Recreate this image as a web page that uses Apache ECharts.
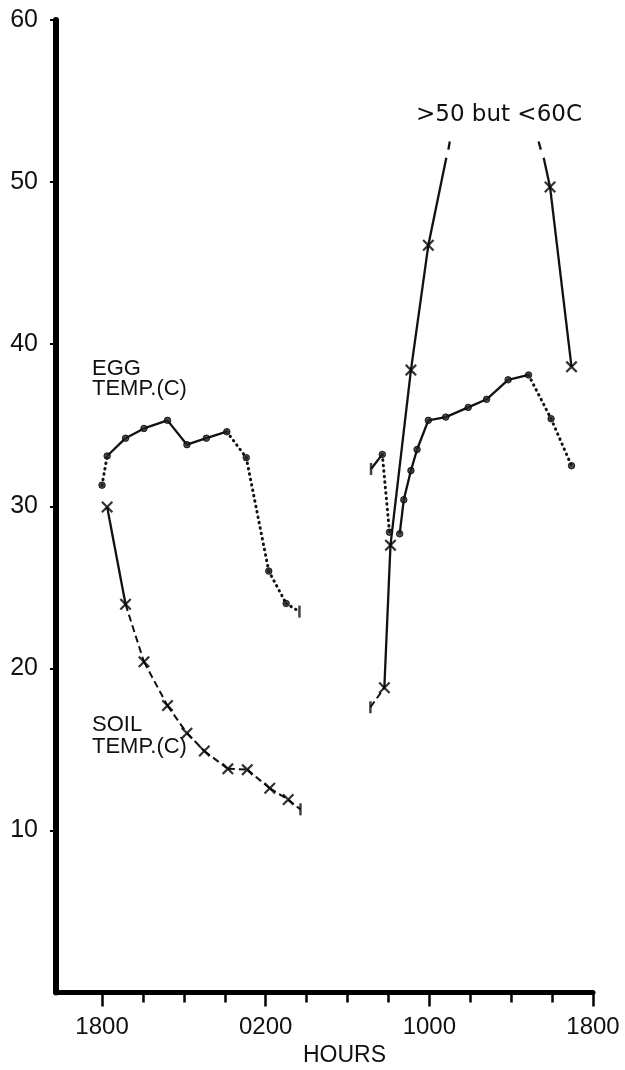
<!DOCTYPE html>
<html><head><meta charset="utf-8">
<script src="https://cdn.jsdelivr.net/npm/echarts@6/dist/echarts.min.js"></script>
<style>html,body{margin:0;padding:0;background:#fff}#c{width:625px;height:1070px}</style>
</head><body><div id="c"></div>
<script>
// x = hours after 1800 (day 1), y = temperature (C)
const xTickValues = [0, 2, 4, 6, 8, 10, 12, 14, 16, 18, 20, 22, 24];
const xMajorValues = [0, 8, 16, 24];
const xTickLabels = {0: '1800', 8: '0200', 16: '1000', 24: '1800'};
const yTickValues = [10, 20, 30, 40, 50, 60];

// Egg temperature, night
const eggNightX = [0, 0.25, 1.15, 2.05, 3.2, 4.15, 5.1, 6.1, 7.05, 8.15, 9.0, 9.65];
const eggNightY = [31.3, 33.1, 34.2, 34.8, 35.3, 33.8, 34.2, 34.6, 33.0, 26.0, 24.0, 23.5];
// Egg temperature, day (start)
const eggDayAX = [13.15, 13.7, 14.05];
const eggDayAY = [32.3, 33.2, 28.4];
// Egg temperature, day (main)
const eggDayBX = [14.55, 14.75, 15.1, 15.4, 15.95, 16.8, 17.9, 18.8, 19.85, 20.85, 21.95, 22.95];
const eggDayBY = [28.3, 30.4, 32.2, 33.5, 35.3, 35.5, 36.1, 36.6, 37.8, 38.1, 35.4, 32.5];

// Soil temperature, night
const soilNightX = [0.25, 1.15, 2.05, 3.2, 4.15, 5.0, 6.15, 7.1, 8.2, 9.1, 9.7];
const soilNightY = [29.95, 23.95, 20.4, 17.7, 16.0, 14.9, 13.8, 13.75, 12.6, 11.9, 11.3];
// Soil temperature, day, rising part (goes off scale >50 but <60)
const soilDayAX = [13.12, 13.8, 14.1, 15.1, 15.95, 16.83];
const soilDayAY = [17.6, 18.8, 27.6, 38.4, 46.1, 51.5];
const soilDayTopAX = [16.93, 17.0];
const soilDayTopAY = [52.0, 52.5];
// Soil temperature, day, falling part
const soilDayTopBX = [21.34, 21.45];
const soilDayTopBY = [52.5, 52.0];
const soilDayBX = [21.59, 21.9, 22.95];
const soilDayBY = [51.5, 49.7, 38.6];

// ---- styles (kept apart from the values) ----
const S = {
  eggNight: {marks: ['o','o','o','o','o','o','o','o','o','o','o','|'],
             segs: ['dot','solid','solid','solid','solid','solid','solid','dot','dot','dot','dot']},
  eggDayA:  {marks: ['|','o','o'], segs: ['solid','dot']},
  eggDayB:  {marks: ['o','o','o','o','o','o','o','o','o','o','o','o'],
             segs: ['solid','solid','solid','solid','solid','solid','solid','solid','solid','dot','dot']},
  soilNight:{marks: ['x','x','x','x','x','x','x','x','x','x','|'],
             segs: ['solid','dash','dash','dash','dash','dash','dash','dash','dash','dash']},
  soilDayA: {marks: ['|','x','x','x','x',''], segs: ['dash','solid','solid','solid','solid']},
  soilDayTopA: {marks: ['',''], segs: ['solid']},
  soilDayTopB: {marks: ['',''], segs: ['solid']},
  soilDayB: {marks: ['','x','x'], segs: ['solid','solid']}
};

const lineTypes = {
  solid: {type: 'solid', width: 2.3},
  dot:   {type: [0.5, 5], width: 3, cap: 'round'},
  dash:  {type: [7, 4], width: 2}
};

const groups = [
  ['eggNight', eggNightX, eggNightY],
  ['eggDayA', eggDayAX, eggDayAY],
  ['eggDayB', eggDayBX, eggDayBY],
  ['soilNight', soilNightX, soilNightY],
  ['soilDayA', soilDayAX, soilDayAY],
  ['soilDayTopA', soilDayTopAX, soilDayTopAY],
  ['soilDayTopB', soilDayTopBX, soilDayTopBY],
  ['soilDayB', soilDayBX, soilDayBY]
];

const series = [];
const dots = [], crosses = [], bars = [];
groups.forEach(([key, xs, ys]) => {
  const st = S[key];
  for (let i = 0; i < xs.length - 1; i++) {
    const lt = lineTypes[st.segs[i]];
    series.push({
      type: 'line', silent: true, symbol: 'none', animation: false, z: 2,
      data: [[xs[i], ys[i]], [xs[i + 1], ys[i + 1]]],
      lineStyle: {color: '#111', width: lt.width, type: lt.type, cap: lt.cap || 'butt'}
    });
  }
  xs.forEach((x, i) => {
    const m = st.marks[i];
    if (m === 'o') dots.push([x, ys[i]]);
    else if (m === 'x') crosses.push([x, ys[i]]);
    else if (m === '|') bars.push([x, ys[i]]);
  });
});

const crossPath = 'path://M0,1.3L1.3,0L5,3.7L8.7,0L10,1.3L6.3,5L10,8.7L8.7,10L5,6.3L1.3,10L0,8.7L3.7,5Z';
series.push({type: 'scatter', data: dots, symbol: 'circle', symbolSize: 6.5, z: 5, animation: false,
  itemStyle: {color: '#222', borderColor: '#000', borderWidth: 1}});
series.push({type: 'scatter', data: crosses, symbol: crossPath, symbolSize: 12, z: 5, animation: false,
  itemStyle: {color: '#000', borderWidth: 0}});
series.push({type: 'scatter', data: bars, symbol: 'rect', symbolSize: [2.5, 12], z: 5, animation: false,
  itemStyle: {color: '#111'}});

const labelFont = "'Liberation Sans', Arial, sans-serif";
const chart = echarts.init(document.getElementById('c'), null, {renderer: 'canvas'});
chart.setOption({
  backgroundColor: '#fff',
  animation: false,
  grid: {left: 56, right: 32, top: 20, bottom: 77.5, containLabel: false},
  xAxis: [
    {type: 'value', min: -2.25, max: 24,
     axisLine: {show: true, onZero: false, lineStyle: {color: '#000', width: 5}},
     axisTick: {show: true, customValues: xTickValues, length: 10, lineStyle: {color: '#000', width: 2.5}},
     axisLabel: {show: true, customValues: xMajorValues, margin: 23, color: '#111',
       fontFamily: labelFont, fontSize: 24, formatter: v => xTickLabels[v] || ''},
     splitLine: {show: false}},
    {type: 'value', min: -2.25, max: 24, position: 'bottom',
     axisLine: {show: false, onZero: false},
     axisTick: {show: true, customValues: xMajorValues, length: 14, lineStyle: {color: '#000', width: 2.5}},
     axisLabel: {show: false}, splitLine: {show: false}}
  ],
  yAxis: {type: 'value', min: 0, max: 60, interval: 10,
    axisLine: {show: true, onZero: false, lineStyle: {color: '#000', width: 6}},
    axisTick: {show: true, customValues: yTickValues, length: 6, lineStyle: {color: '#000', width: 2}},
    axisLabel: {show: true, customValues: yTickValues, margin: 18, color: '#111',
      fontFamily: labelFont, fontSize: 25},
    splitLine: {show: false}},
  graphic: [
    {type: 'text', left: 92, top: 358, style: {text: 'EGG\nTEMP.(C)', fill: '#111',
      font: "22px 'Liberation Sans', Arial, sans-serif", lineHeight: 20}},
    {type: 'text', left: 92, top: 714, style: {text: 'SOIL\nTEMP.(C)', fill: '#111',
      font: "22px 'Liberation Sans', Arial, sans-serif", lineHeight: 22}},
    {type: 'text', left: 416, top: 104, style: {text: '>50 but <60C', fill: '#111',
      font: "23px 'DejaVu Sans', sans-serif"}},
    {type: 'text', left: 303, top: 1044, style: {text: 'HOURS', fill: '#111',
      font: "23px 'Liberation Sans', Arial, sans-serif"}}
  ],
  series: series
});
</script>
</body></html>
